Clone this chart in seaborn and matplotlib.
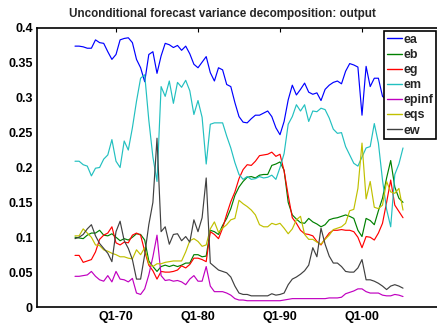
import numpy as np
import pandas as pd
import matplotlib
matplotlib.use("Agg")
import matplotlib.pyplot as plt
import seaborn as sns

# Half-yearly observations, 1965 to 2005
years = np.arange(1965.0, 2005.01, 0.5)

ea = [0.374, 0.374, 0.373, 0.371, 0.371, 0.383, 0.379, 0.378, 0.366, 0.355,
      0.362, 0.383, 0.385, 0.386, 0.379, 0.355, 0.343, 0.323, 0.362, 0.366,
      0.335, 0.360, 0.378, 0.376, 0.372, 0.375, 0.368, 0.374, 0.363, 0.348,
      0.343, 0.351, 0.359, 0.336, 0.324, 0.343, 0.340, 0.319, 0.316, 0.293,
      0.273, 0.265, 0.264, 0.270, 0.275, 0.275, 0.278, 0.281, 0.273, 0.257,
      0.247, 0.266, 0.297, 0.318, 0.304, 0.312, 0.321, 0.308, 0.305, 0.307,
      0.296, 0.312, 0.318, 0.322, 0.324, 0.320, 0.338, 0.349, 0.347, 0.344,
      0.275, 0.345, 0.316, 0.328, 0.328, 0.302, 0.297, 0.300, 0.310, 0.300,
      0.305]

eb = [0.100, 0.099, 0.098, 0.103, 0.106, 0.106, 0.110, 0.103, 0.102, 0.105,
      0.100, 0.095, 0.098, 0.096, 0.100, 0.105, 0.104, 0.096, 0.066, 0.058,
      0.051, 0.058, 0.060, 0.058, 0.060, 0.058, 0.060, 0.063, 0.063, 0.075,
      0.075, 0.072, 0.073, 0.110, 0.108, 0.104, 0.117, 0.127, 0.141, 0.160,
      0.172, 0.180, 0.186, 0.187, 0.185, 0.189, 0.190, 0.190, 0.203, 0.205,
      0.208, 0.196, 0.150, 0.132, 0.126, 0.121, 0.120, 0.127, 0.122, 0.119,
      0.115, 0.118, 0.125, 0.127, 0.128, 0.130, 0.132, 0.130, 0.127, 0.110,
      0.101, 0.127, 0.124, 0.118, 0.138, 0.156, 0.185, 0.210, 0.172, 0.156,
      0.150]

eg = [0.074, 0.074, 0.064, 0.066, 0.068, 0.079, 0.097, 0.103, 0.106, 0.115,
      0.092, 0.089, 0.093, 0.092, 0.103, 0.106, 0.103, 0.080, 0.060, 0.052,
      0.040, 0.051, 0.050, 0.050, 0.051, 0.053, 0.059, 0.056, 0.061, 0.070,
      0.070, 0.068, 0.065, 0.108, 0.104, 0.098, 0.113, 0.133, 0.151, 0.165,
      0.184, 0.197, 0.204, 0.203, 0.209, 0.217, 0.218, 0.219, 0.222, 0.216,
      0.219, 0.195, 0.160, 0.128, 0.120, 0.110, 0.105, 0.104, 0.102, 0.094,
      0.089, 0.098, 0.106, 0.110, 0.110, 0.111, 0.110, 0.110, 0.108, 0.100,
      0.085, 0.101, 0.100, 0.096, 0.106, 0.120, 0.150, 0.182, 0.146, 0.137,
      0.128]

em = [0.209, 0.209, 0.204, 0.202, 0.188, 0.199, 0.200, 0.212, 0.218, 0.240,
      0.209, 0.200, 0.238, 0.225, 0.257, 0.295, 0.328, 0.333, 0.268, 0.215,
      0.180, 0.316, 0.302, 0.324, 0.292, 0.322, 0.315, 0.325, 0.310, 0.276,
      0.296, 0.272, 0.205, 0.262, 0.264, 0.264, 0.264, 0.245, 0.228, 0.207,
      0.190, 0.183, 0.187, 0.183, 0.184, 0.187, 0.185, 0.186, 0.189, 0.183,
      0.200, 0.220, 0.262, 0.273, 0.290, 0.281, 0.290, 0.266, 0.281, 0.280,
      0.285, 0.283, 0.271, 0.255, 0.249, 0.250, 0.230, 0.218, 0.206, 0.202,
      0.215, 0.228, 0.230, 0.263, 0.235, 0.182, 0.140, 0.115, 0.190, 0.205,
      0.228]

epinf = [0.044, 0.044, 0.045, 0.046, 0.051, 0.044, 0.039, 0.037, 0.045, 0.036,
         0.051, 0.040, 0.039, 0.036, 0.041, 0.020, 0.018, 0.026, 0.046, 0.072,
         0.103, 0.045, 0.038, 0.039, 0.037, 0.038, 0.036, 0.032, 0.040, 0.045,
         0.037, 0.037, 0.058, 0.030, 0.022, 0.022, 0.022, 0.020, 0.017, 0.012,
         0.010, 0.010, 0.009, 0.009, 0.009, 0.009, 0.009, 0.009, 0.009, 0.009,
         0.009, 0.010, 0.011, 0.012, 0.012, 0.012, 0.012, 0.012, 0.012, 0.012,
         0.012, 0.012, 0.013, 0.013, 0.013, 0.014, 0.019, 0.021, 0.023, 0.026,
         0.026, 0.022, 0.020, 0.020, 0.020, 0.017, 0.016, 0.016, 0.018, 0.017,
         0.015]

eqs = [0.102, 0.102, 0.112, 0.106, 0.100, 0.089, 0.088, 0.082, 0.080, 0.077,
       0.075, 0.072, 0.072, 0.070, 0.069, 0.082, 0.075, 0.085, 0.062, 0.058,
       0.062, 0.062, 0.064, 0.065, 0.066, 0.066, 0.066, 0.079, 0.095, 0.098,
       0.094, 0.087, 0.089, 0.112, 0.122, 0.107, 0.113, 0.118, 0.125, 0.127,
       0.153, 0.148, 0.144, 0.139, 0.132, 0.118, 0.115, 0.115, 0.120, 0.118,
       0.120, 0.113, 0.105, 0.112, 0.125, 0.130, 0.104, 0.097, 0.097, 0.093,
       0.090, 0.097, 0.103, 0.111, 0.113, 0.115, 0.120, 0.138, 0.140, 0.170,
       0.235, 0.155, 0.180, 0.143, 0.141, 0.146, 0.180, 0.165, 0.163, 0.170,
       0.139]

ew = [0.098, 0.100, 0.104, 0.112, 0.118, 0.102, 0.091, 0.084, 0.077, 0.065,
      0.108, 0.123, 0.095, 0.084, 0.068, 0.040, 0.040, 0.075, 0.118, 0.150,
      0.242, 0.108, 0.115, 0.090, 0.104, 0.105, 0.095, 0.101, 0.093, 0.125,
      0.108, 0.128, 0.185, 0.063, 0.058, 0.053, 0.051, 0.049, 0.043, 0.030,
      0.020, 0.018, 0.018, 0.016, 0.016, 0.016, 0.016, 0.016, 0.019, 0.017,
      0.018, 0.020, 0.032, 0.040, 0.043, 0.047, 0.052, 0.060, 0.085, 0.072,
      0.113, 0.090, 0.073, 0.063, 0.063, 0.058, 0.051, 0.050, 0.050, 0.056,
      0.068, 0.039, 0.039, 0.037, 0.034, 0.030, 0.025, 0.030, 0.032, 0.030,
      0.027]

shocks = ["ea", "eb", "eg", "em", "epinf", "eqs", "ew"]
series = [ea, eb, eg, em, epinf, eqs, ew]
colors = ["#0000ff", "#008000", "#ff0000", "#22c0c0", "#c000c0", "#c0c000", "#404040"]

xtick_years = [1970, 1980, 1990, 2000]
xtick_labels = ["Q1-70", "Q1-80", "Q1-90", "Q1-00"]
ytick_values = [0, 0.05, 0.1, 0.15, 0.2, 0.25, 0.3, 0.35, 0.4]
ytick_labels = ["0", "0.05", "0.1", "0.15", "0.2", "0.25", "0.3", "0.35", "0.4"]
title = "Unconditional forecast variance decomposition: output"

df = pd.concat(
    [pd.DataFrame({"year": years, "share": vals, "shock": name})
     for name, vals in zip(shocks, series)],
    ignore_index=True,
)

sns.set_theme(style="white")
plt.rcParams["font.family"] = ["Liberation Sans", "DejaVu Sans"]
plt.rcParams["font.weight"] = "bold"

W, H = 437, 325
fig = plt.figure(figsize=(W / 100, H / 100), dpi=100)
ax_l, ax_r, ax_t, ax_b = 37, 444, 28, 307
ax = fig.add_axes([ax_l / W, 1 - ax_b / H, (ax_r - ax_l) / W, (ax_b - ax_t) / H])

sns.lineplot(data=df, x="year", y="share", hue="shock", hue_order=shocks,
             palette=dict(zip(shocks, colors)), linewidth=0.85, ax=ax,
             legend=False)

ax.set_xlim(1970 - 79 / 8.2, 2010)
ax.set_ylim(0, 0.4)
ax.set_xticks(xtick_years)
ax.set_xticklabels(xtick_labels)
ax.set_yticks(ytick_values)
ax.set_yticklabels(ytick_labels)
ax.set_xlabel("")
ax.set_ylabel("")
ax.tick_params(direction="in", length=3, width=0.8, top=True, right=True,
               labelsize=9, pad=3, colors="black")
for lab in ax.get_xticklabels() + ax.get_yticklabels():
    lab.set_fontweight("bold")
for sp in ax.spines.values():
    sp.set_visible(True)
    sp.set_color("black")
    sp.set_linewidth(1.2)

fig.text(222.5 / W, 1 - 14 / H, title, ha="center", va="center",
         fontsize=8.4, fontweight="bold")

handles = [plt.Line2D([], [], color=c, lw=1.0) for c in colors]
leg = ax.legend(handles, shocks, loc="upper left",
                bbox_to_anchor=(384 / W, 1 - 31 / H),
                bbox_transform=fig.transFigure, borderaxespad=0,
                frameon=True, fancybox=False, framealpha=1,
                edgecolor="black", handlelength=1.25,
                handletextpad=0.1, labelspacing=0.25, borderpad=0.22,
                prop={"weight": "bold", "size": 9})
leg.get_frame().set_linewidth(1.2)

fig.savefig("out.png", dpi=100)
